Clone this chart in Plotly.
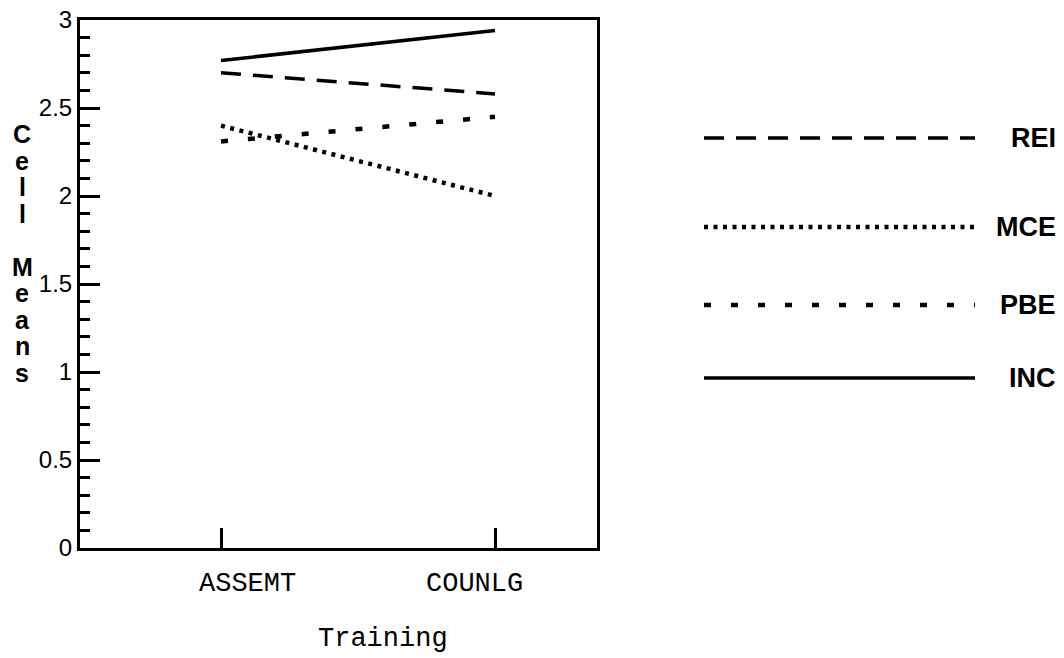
import plotly.graph_objects as go

# Cell means by training type for each group
categories = ["ASSEMT", "COUNLG"]
rei = [2.70, 2.58]
mce = [2.40, 2.00]
pbe = [2.31, 2.45]
inc = [2.77, 2.94]

series_names = ["REI", "MCE", "PBE", "INC"]
series_values = [rei, mce, pbe, inc]

W, H = 1064, 658
# plot frame in pixels
PX0, PX1, PY0, PY1 = 80, 597, 20, 548
CAT_PX = (221, 495)  # pixel centres of the two categories

styles = {
    "REI": dict(width=3.5, dash="20px,12px"),
    "MCE": dict(width=4.5, dash="4px,5.5px"),
    "PBE": dict(width=4.5, dash="7px,20px"),
    "INC": dict(width=3.5, dash="solid"),
}

def fx(px):
    return px / W

def fy(py):
    return 1 - py / H

fig = go.Figure()
for name, vals in zip(series_names, series_values):
    fig.add_trace(go.Scatter(
        x=categories, y=vals, mode="lines", name=name,
        line=dict(color="black", **styles[name]),
        showlegend=False, hoverinfo="skip",
    ))

unit = CAT_PX[1] - CAT_PX[0]
xr = [(PX0 - CAT_PX[0]) / unit, (PX1 - CAT_PX[0]) / unit]

fig.update_layout(
    width=W, height=H,
    margin=dict(l=0, r=0, t=0, b=0),
    paper_bgcolor="white", plot_bgcolor="white",
    xaxis=dict(
        domain=[fx(PX0), fx(PX1)], range=xr, type="category",
        showline=True, linecolor="black", linewidth=3, mirror=True,
        ticks="inside", ticklen=20, tickwidth=3, tickcolor="black",
        showticklabels=False, showgrid=False, zeroline=False, automargin=False,
    ),
    yaxis=dict(
        domain=[fy(PY1), fy(PY0)], range=[0, 3],
        tickmode="array", tickvals=[0, 0.5, 1, 1.5, 2, 2.5, 3],
        ticktext=["0", "0.5", "1", "1.5", "2", "2.5", "3"],
        showline=True, linecolor="black", linewidth=3, mirror=True,
        ticks="inside", ticklen=20, tickwidth=3, tickcolor="black",
        minor=dict(dtick=0.1, tick0=0, ticks="inside", ticklen=10,
                   tickwidth=3, tickcolor="black", showgrid=False),
        tickfont=dict(family="Liberation Sans, Arial, sans-serif", size=24, color="black"),
        showgrid=False, zeroline=False, automargin=False,
    ),
)

annotations = []
# category labels under the axis
mono = dict(family="Courier New, Liberation Mono, monospace", size=27, color="black")
for cat, shift in zip(categories, (26, -21)):
    annotations.append(dict(x=cat, xref="x", y=fy(584), yref="paper", xshift=shift,
                            text=cat, showarrow=False, font=mono,
                            xanchor="center", yanchor="middle"))
annotations.append(dict(x=fx(383), y=fy(639), xref="paper", yref="paper",
                        text="Training", showarrow=False, font=mono,
                        xanchor="center", yanchor="middle"))

# vertical stacked y-axis title
title_letters = ["C", "e", "l", "l", "", "M", "e", "a", "n", "s"]
bold = dict(family="Liberation Sans, Arial, sans-serif", size=25, color="black", weight="bold")
for i, ch in enumerate(title_letters):
    if ch:
        annotations.append(dict(x=fx(22), y=fy(134 + 26.5 * i), xref="paper", yref="paper",
                                text=ch, showarrow=False, font=bold,
                                xanchor="center", yanchor="middle"))

# key: line samples with group names on the right
key_rows = {"REI": 138, "MCE": 227, "PBE": 305, "INC": 378}
shapes = []
key_font = dict(family="Liberation Sans, Arial, sans-serif", size=27, color="black", weight="bold")
for name in series_names:
    yk = fy(key_rows[name])
    shapes.append(dict(type="line", xref="paper", yref="paper",
                       x0=fx(704), x1=fx(975), y0=yk, y1=yk,
                       line=dict(color="black", **styles[name])))
    annotations.append(dict(x=fx(1058), y=yk, xref="paper", yref="paper",
                            text=name, showarrow=False, font=key_font,
                            xanchor="right", yanchor="middle"))

fig.update_layout(annotations=annotations, shapes=shapes)
fig.write_html("out.html")
